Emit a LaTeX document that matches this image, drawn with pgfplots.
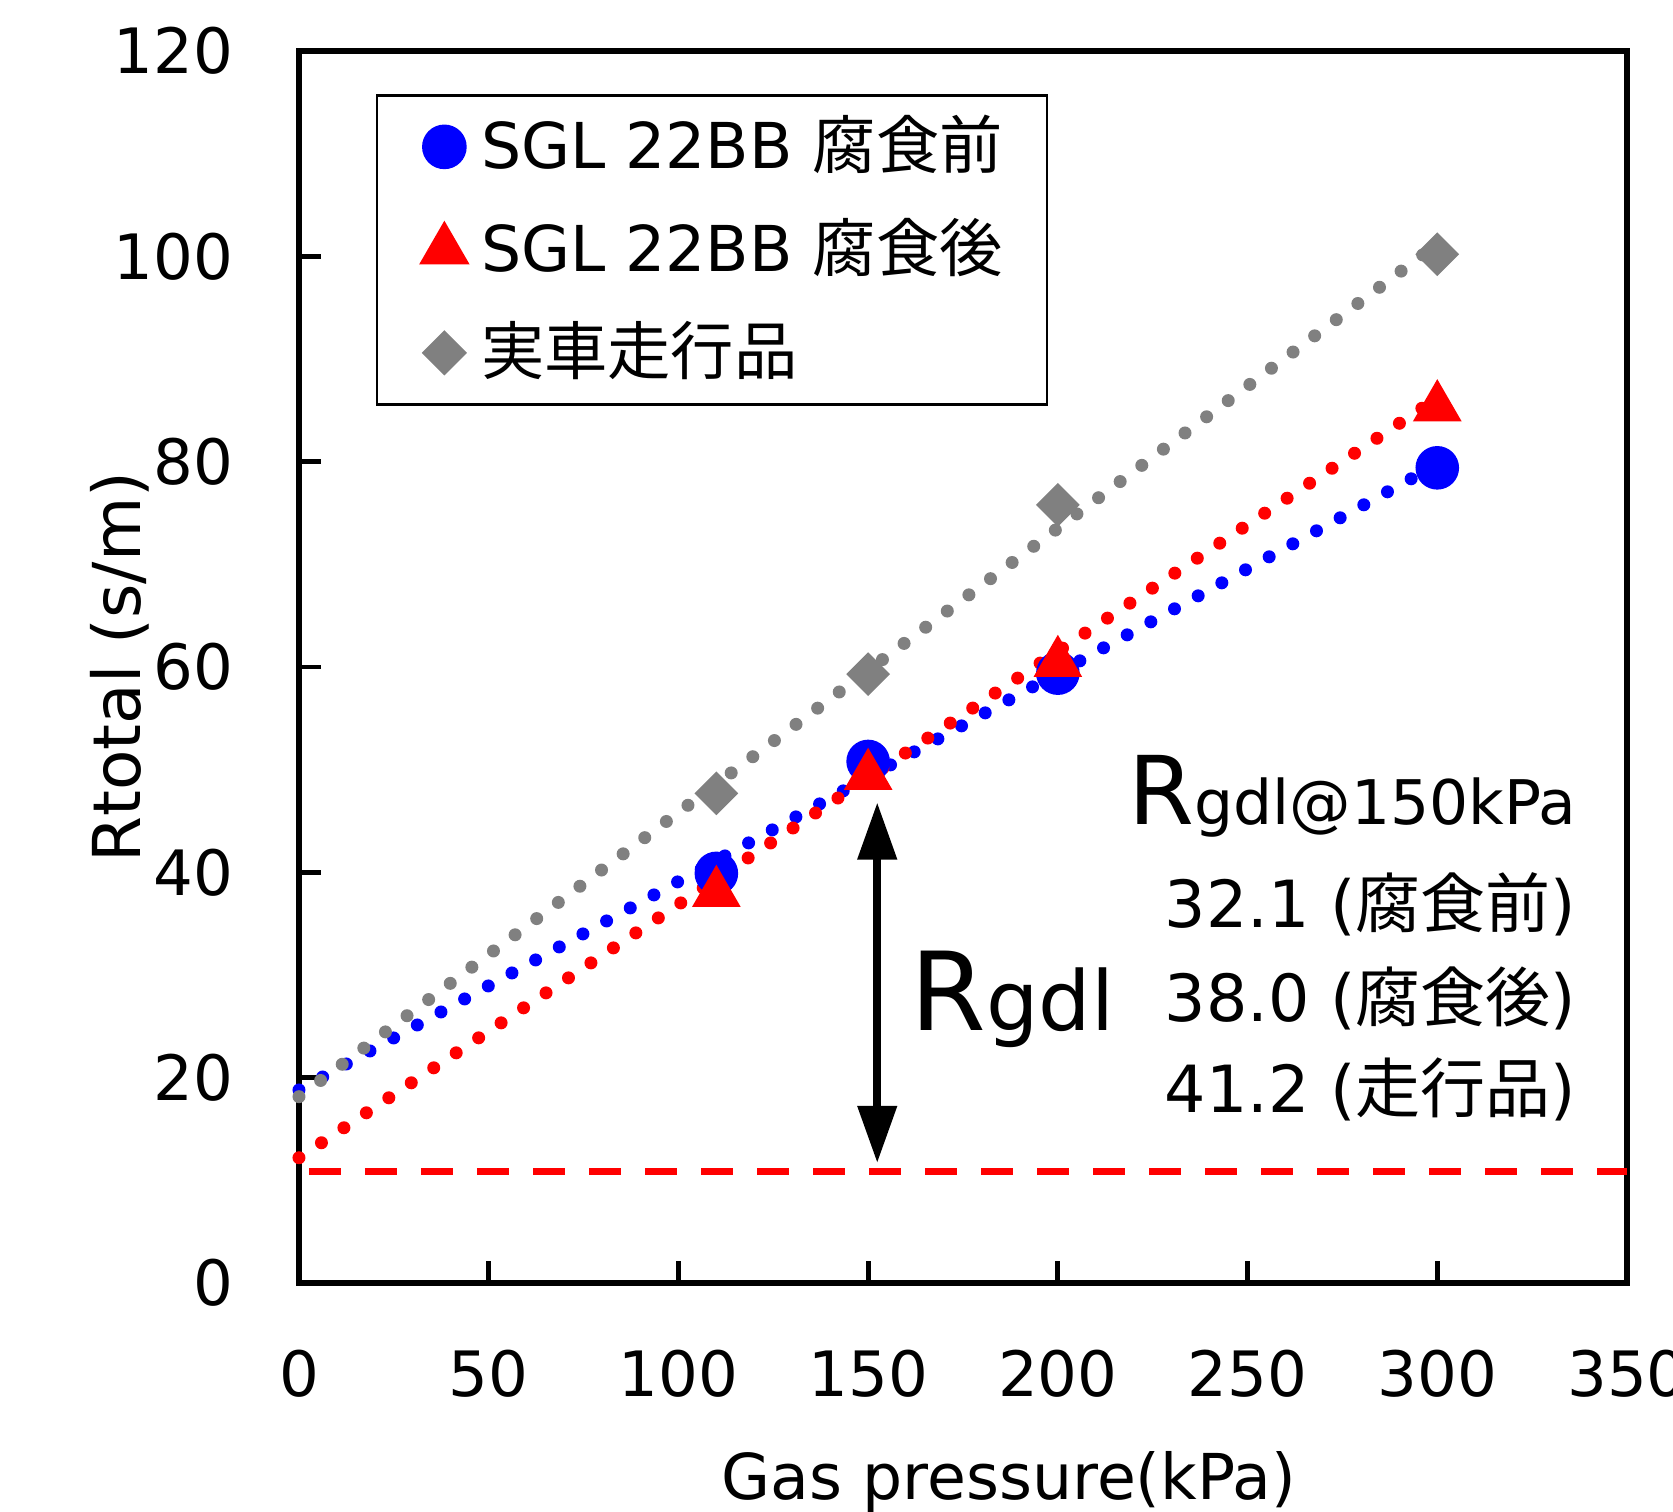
\documentclass[border=0pt]{standalone}
\usepackage{fontspec}
\setmainfont{DejaVu Sans}
\newfontfamily\jp{Noto Sans CJK JP}
\usepackage{pgfplots}
\pgfplotsset{compat=1.18}
\usetikzlibrary{arrows.meta}
\definecolor{cblue}{RGB}{0,0,255}
\definecolor{cred}{RGB}{255,0,0}
\definecolor{cgray}{RGB}{128,128,128}
\begin{document}
\fontsize{18pt}{22pt}\selectfont
\begin{tikzpicture}
\begin{axis}[
  name=ax,
  scale only axis,
  width=13.28cm, height=12.32cm,
  xmin=0, xmax=350, ymin=0, ymax=120,
  xtick={0,50,...,350}, ytick={0,20,...,120},
  xtick pos=left, ytick pos=left,
  tick align=inside,
  major tick length=0.22cm,
  axis line style={line width=1.5pt},
  every tick/.style={black, line width=1.4pt},
  /pgf/number format/assume math mode=true,
  ticklabel style={font=\fontsize{17.8pt}{20pt}\selectfont},
  xticklabel style={yshift=-0.45cm},
  yticklabel style={xshift=-0.44cm},
  xlabel={Gas pressure(kPa)},
  ylabel={Rtotal (s/m)},
  xlabel style={at={(axis description cs:0.5346,-0.1761)}, anchor=base, font=\fontsize{18pt}{20pt}\selectfont},
  ylabel style={at={(axis description cs:-0.1348,0.5)}, anchor=center, font=\fontsize{18.8pt}{20pt}\selectfont},
  clip=false,
  legend cell align=left,
  legend style={at={(axis description cs:0.058,0.965)}, anchor=north west,
    draw=black, line width=0.7pt, fill=white,
    inner xsep=0.44cm, inner ysep=0pt,
    nodes={inner sep=0pt, minimum height=1.03cm},
    column sep=0.135cm,
    font=\fontsize{18pt}{20pt}\selectfont},
]
% markers
\addplot[only marks, mark=*, mark size=6pt, color=cblue, mark options={fill=cblue, draw=cblue}]
  coordinates {(110,39.9) (150,50.8) (200,59.4) (300,79.4)};
\addlegendentry{SGL 22BB {\jp 腐食前}}
\addplot[only marks, mark=triangle*, mark size=7.6pt, color=cred, mark options={fill=cred, draw=cred}]
  coordinates {(110,38.0) (150,49.4) (200,60.4) (300,85.3)};
\addlegendentry{SGL 22BB {\jp 腐食後}}
\addplot[only marks, mark=square*, mark size=4.2pt, color=cgray, mark options={fill=cgray, draw=cgray, rotate=45}]
  coordinates {(110,47.7) (150,59.3) (200,75.8) (300,100.2)};
\addlegendentry{{\jp 実車走行品}}
% trend lines
\addplot[forget plot, color=cblue, line width=0.13cm, line cap=round, dash pattern=on 0pt off 0.27cm]
  coordinates {(0,18.8) (300,79.73)};
\addplot[forget plot, color=cred, line width=0.13cm, line cap=round, dash pattern=on 0pt off 0.27cm]
  coordinates {(0,12.2) (300,86.2)};
\addplot[forget plot, color=cgray, line width=0.13cm, line cap=round, dash pattern=on 0pt off 0.27cm]
  coordinates {(0,18.15) (300,101.2)};
% dashed reference line
\addplot[forget plot, color=cred, line width=2pt, dash pattern=on 0.32cm off 0.24cm, dash phase=-0.1cm]
  coordinates {(0,10.9) (350,10.9)};
% arrow
\draw[line width=2.2pt, {Triangle[length=0.57cm,width=0.38cm]}-{Triangle[length=0.57cm,width=0.38cm]}]
  (axis cs:152.4,46.8) -- (axis cs:152.4,11.7);
% annotations
\node[anchor=base west, inner sep=0pt] at (axis cs:161,24.6)
  {{\fontsize{31pt}{31pt}\selectfont R}{\fontsize{23.5pt}{24pt}\selectfont gdl}};
\node[anchor=base east, inner sep=0pt] at (axis cs:336.8,44.7)
  {{\fontsize{27pt}{27pt}\selectfont R}{\fontsize{17.5pt}{18pt}\selectfont gdl@150kPa}};
\node[anchor=base east, inner sep=0pt, font=\fontsize{18.5pt}{20pt}\selectfont] at (axis cs:336.8,34.6)
  {32.1 ({\jp 腐食前})};
\node[anchor=base east, inner sep=0pt, font=\fontsize{18.5pt}{20pt}\selectfont] at (axis cs:336.8,25.5)
  {38.0 ({\jp 腐食後})};
\node[anchor=base east, inner sep=0pt, font=\fontsize{18.5pt}{20pt}\selectfont] at (axis cs:336.8,16.6)
  {41.2 ({\jp 走行品})};
\end{axis}
\pgfresetboundingbox
\path[use as bounding box] ([xshift=-2.99cm,yshift=-2.29cm]ax.south west) rectangle ([xshift=0.46cm,yshift=0.51cm]ax.north east);
\end{tikzpicture}
\end{document}
